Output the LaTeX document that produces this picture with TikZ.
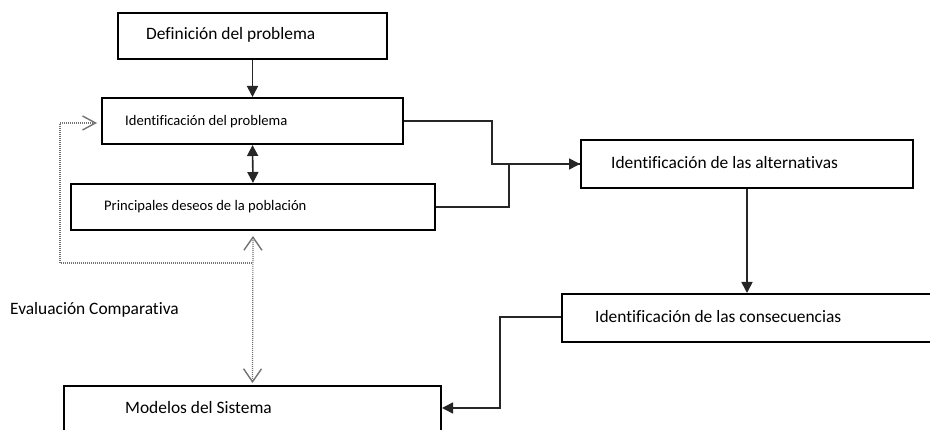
\documentclass[tikz,border=0pt]{standalone}
\usepackage{fontspec}
\setmainfont{Carlito}[RawFeature={-liga}]
\usetikzlibrary{arrows.meta,calc}
\tikzset{
  box/.style={draw=black, line width=2pt, rectangle, inner sep=0pt, anchor=north west},
  txt/.style={anchor=west, inner sep=0pt, text=black, font=\fontsize{17.4}{20}\selectfont},
  txtsm/.style={anchor=west, inner sep=0pt, text=black, font=\fontsize{14.6}{18}\selectfont},
  conn/.style={draw=black!85, line width=1.6pt},
  solidtip/.style={-{Triangle[length=11pt,width=11pt]}},
  dots/.style={draw=black!55, line width=1.2pt, dash pattern=on 1pt off 1pt},
}
\begin{document}
\begin{tikzpicture}[x=1pt,y=-1pt]
\fill[white] (0,0) rectangle (930,430);
\clip (0,0) rectangle (930,430);
% boxes
\node[box, minimum width=269pt, minimum height=46pt] (b1) at (117,12) {};
\node[box, minimum width=301pt, minimum height=46pt] (b2) at (101,97) {};
\node[box, minimum width=364pt, minimum height=46pt] (b3) at (70,183) {};
\node[box, minimum width=332pt, minimum height=48pt] (b4) at (580,139) {};
\node[box, minimum width=400pt, minimum height=48pt] (b5) at (561,293) {};
\node[box, minimum width=377pt, minimum height=60pt] (b6) at (63,385) {};
% texts
\node[txt] (t1) at (146,35) {Definición del problema};
\node[txtsm] (t2) at (125,122) {Identificación del problema};
\node[txtsm] (t3) at (104,207) {Principales deseos de la población};
\node[txt] (t4) at (611,163) {Identificación de las alternativas};
\node[txt] (t5) at (595,317) {Identificación de las consecuencias};
\node[txt] (t6) at (125,408) {Modelos del Sistema};
\node[txt] (t7) at (10,310) {Evaluación Comparativa};
% connectors
\draw[conn, solidtip] (b1.south) -- (b2.north);
\draw[conn, {Triangle[length=11pt,width=11pt]}-{Triangle[length=11pt,width=11pt]}] (b2.south) -- (b3.north);
\draw[conn, solidtip] (b2.east) -- ++(88,0) |- (b4.west);
\draw[conn] (b3.east) -- ++(73,0) |- (b4.west);
\draw[conn, solidtip] (b4.south) -- (b4.south |- b5.north);
\draw[conn, solidtip] (b5.west |- 0,317) -- ++(-61,0) |- (b6.east |- 0,408);
% dotted feedback
\coordinate (j) at (252,263);
\coordinate (c) at (60,123);
\draw[dots, {Straight Barb[length=13pt,width=18pt,line width=1.4pt]}-{Straight Barb[length=13pt,width=18pt,line width=1.4pt]}, shorten <=5pt, shorten >=2pt] (b3.south) -- (b6.north);
\draw[dots, -{Straight Barb[length=13pt,width=14pt,line width=1.4pt]}, shorten >=4pt] (j) -| (c) -- (b2.west |- c);
\end{tikzpicture}
\end{document}
